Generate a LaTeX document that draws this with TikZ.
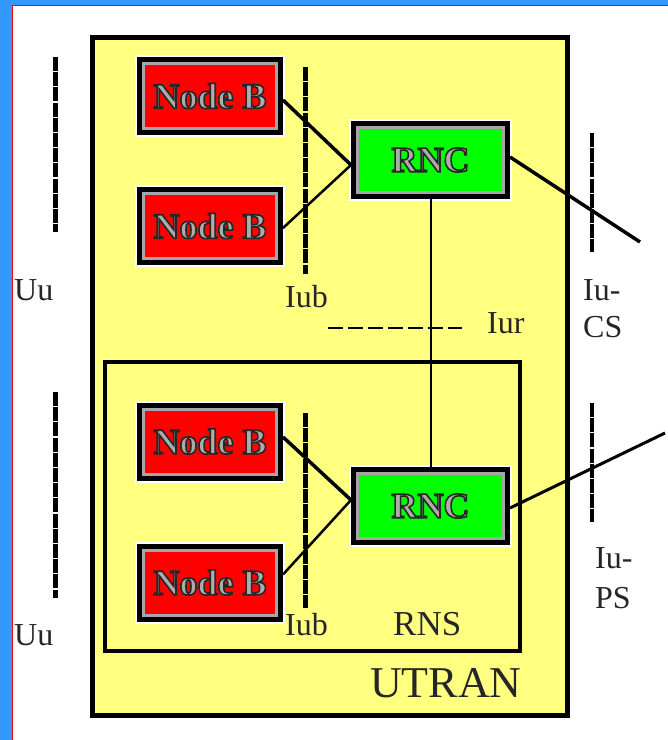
\documentclass[tikz,border=0pt]{standalone}
\usepackage{fontspec}
\setmainfont{Liberation Serif}
\usepackage{tikz}
\usetikzlibrary{positioning}
\definecolor{FrameBlue}{HTML}{3399FF}
\definecolor{UtranYellow}{HTML}{FFFF80}
\definecolor{RncGreen}{HTML}{00FF00}
\newcommand\embossed[1]{\special{pdf:literal direct 0.15 G 1.6 w 2 Tr}#1\special{pdf:literal direct 0 Tr}}

\begin{document}
\begin{tikzpicture}[x=1pt,y=-1pt,
    nodeb/.style={fill=red,draw=gray!70,line width=3pt,
      preaction={draw=white,line width=17pt},
      preaction={draw=black,line width=13pt},
      minimum width=133pt,minimum height=65pt,inner sep=0pt,outer sep=6.5pt,
      text=gray!65,font=\fontsize{36}{40}\selectfont\bfseries},
    rnc/.style={nodeb,fill=RncGreen,minimum width=146pt},
    iface/.style={line width=5pt,dash pattern=on 14pt off 1.2pt},
    ifacelabel/.style={anchor=base west,inner sep=0pt,text=black!85,font=\fontsize{32}{36}\selectfont}]
    \useasboundingbox (0,0) rectangle (668,740);
    \fill[FrameBlue] (0,0) rectangle (668,740);
    \fill[white] (12,5) rectangle (668,740);
    \draw[red,line width=1pt] (12.5,740) -- (12.5,5.5) -- (668,5.5);
    % UTRAN and RNS frames
    \draw[line width=5pt,fill=UtranYellow] (92,37.5) rectangle (567,715);
    \draw[line width=4pt] (105,362) rectangle (520,651);
    % interface markers
    \draw[iface] (55,57) -- (55,232);
    \draw[iface] (55,392) -- (55,598);
    \draw[iface] (305,67) -- (305,274);
    \draw[iface] (305,413) -- (305,608);
    \draw[iface,line width=4pt] (592,133) -- (592,252);
    \draw[iface,line width=4pt] (592,403) -- (592,522);
    \draw[line width=2pt,dash pattern=on 15pt off 5pt] (328,328) -- (462,328);
    % network elements
    \node[nodeb] (nb1) at (210,96) {\embossed{Node B}};
    \node[nodeb,below=52pt of nb1] (nb2) {\embossed{Node B}};
    \node[nodeb] (nb3) at (210,441.5) {\embossed{Node B}};
    \node[nodeb,below=63pt of nb3] (nb4) {\embossed{Node B}};
    \node[rnc] (rnc1) at (430.5,160) {\embossed{RNC}};
    \node[rnc] (rnc2) at (430.5,506) {\embossed{RNC}};
    \coordinate (cs) at (640,242);
    \coordinate (ps) at (665,433);
    % links
    \draw[line width=3.5pt] ([yshift=-4pt]nb1.east) -- ([yshift=-5pt]rnc1.west);
    \draw[line width=2.5pt] ([yshift=-2pt]nb2.east) -- ([yshift=-5pt]rnc1.west);
    \draw[line width=3.5pt] ([yshift=4.5pt]nb3.east) -- ([yshift=6pt]rnc2.west);
    \draw[line width=2.5pt] ([yshift=8pt]nb4.east) -- ([yshift=6pt]rnc2.west);
    \draw[line width=3.5pt] ([yshift=3pt]rnc1.east) -- (cs);
    \draw[line width=3pt] ([yshift=-2pt]rnc2.east) -- (ps);
    \draw[line width=2pt] (rnc1.south) -- (rnc2.north);
    % labels
    \node[ifacelabel] (uu1) at (14,300) {Uu};
    \node[ifacelabel] (uu2) at (14,645) {Uu};
    \node[ifacelabel] (iub1) at (285,307) {Iub};
    \node[ifacelabel] (iub2) at (285,635) {Iub};
    \node[ifacelabel] (iur) at (487,333) {Iur};
    \node[ifacelabel] (iucs1) at (583,300) {Iu-};
    \node[ifacelabel] (iucs2) at (583,337) {CS};
    \node[ifacelabel] (iups1) at (595,568) {Iu-};
    \node[ifacelabel] (iups2) at (595,608) {PS};
    \node[ifacelabel,font=\fontsize{35}{38}\selectfont] (rns) at (393,635) {RNS};
    \node[ifacelabel,font=\fontsize{44}{48}\selectfont] (utran) at (370,697) {UTRAN};
\end{tikzpicture}
\end{document}
